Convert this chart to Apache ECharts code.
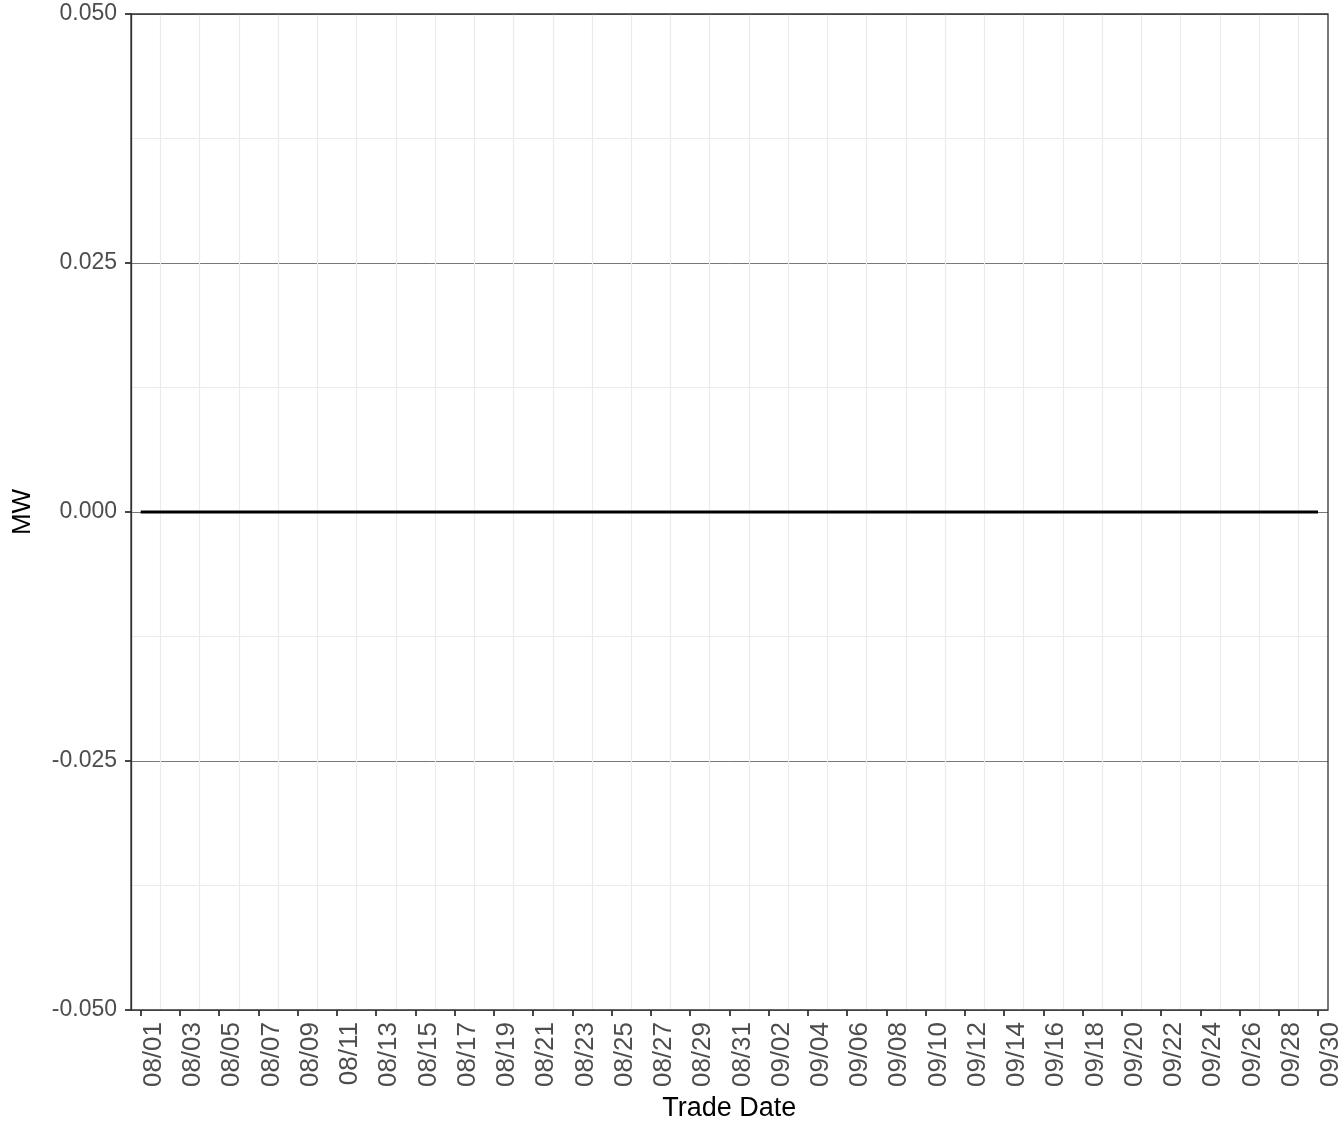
<!DOCTYPE html>
<html>
<head>
<meta charset="utf-8">
<script src="https://cdn.jsdelivr.net/npm/echarts@6/dist/echarts.min.js"></script>
<style>
  html, body { margin: 0; padding: 0; background: #fff; }
  #chart { width: 1344px; height: 1142px; }
</style>
</head>
<body>
<div id="chart"></div>
<script>
// 交易日 08/01 ~ 09/30，每天一个点，全部为 0 MW
const DATES = [
  '08/01', '08/02', '08/03', '08/04', '08/05', '08/06', '08/07', '08/08', '08/09', '08/10',
  '08/11', '08/12', '08/13', '08/14', '08/15', '08/16', '08/17', '08/18', '08/19', '08/20',
  '08/21', '08/22', '08/23', '08/24', '08/25', '08/26', '08/27', '08/28', '08/29', '08/30',
  '08/31', '09/01', '09/02', '09/03', '09/04', '09/05', '09/06', '09/07', '09/08', '09/09',
  '09/10', '09/11', '09/12', '09/13', '09/14', '09/15', '09/16', '09/17', '09/18', '09/19',
  '09/20', '09/21', '09/22', '09/23', '09/24', '09/25', '09/26', '09/27', '09/28', '09/29',
  '09/30',
];
const MW = [
  0, 0, 0, 0, 0, 0, 0, 0, 0, 0,
  0, 0, 0, 0, 0, 0, 0, 0, 0, 0,
  0, 0, 0, 0, 0, 0, 0, 0, 0, 0,
  0, 0, 0, 0, 0, 0, 0, 0, 0, 0,
  0, 0, 0, 0, 0, 0, 0, 0, 0, 0,
  0, 0, 0, 0, 0, 0, 0, 0, 0, 0,
  0,
];
const Y_MIN = -0.05;
const Y_MAX = 0.05;
const Y_STEP = 0.025;

const FONT = "'Liberation Sans', Arial, Helvetica, sans-serif";
const INK = '#333333';
const TICK_TXT = '#4d4d4d';
const MINOR = '#ebebeb';

const chart = echarts.init(document.getElementById('chart'), null, { renderer: 'canvas' });

// 两个重叠的 grid：外框 + y 轴在 grid0，日期轴和曲线在 grid1（左右各缩进约半天）
chart.setOption({
  animation: false,
  backgroundColor: '#fff',
  grid: [
    { left: 131, right: 16, top: 14, bottom: 132, show: true, borderColor: INK, borderWidth: 1.3, backgroundColor: 'transparent', z: 3 },
    { left: 140.7, right: 24.7, top: 14, bottom: 132 },
  ],
  xAxis: [
    { gridIndex: 0, type: 'value', min: 0, max: 1, show: false, axisLine: { onZero: false } },
    {
      gridIndex: 1, type: 'value', min: 0, max: DATES.length - 1, interval: 2,
      position: 'bottom',
      axisLine: { show: false, onZero: false },
      axisTick: { show: true, length: 6, lineStyle: { color: INK, width: 1.8 } },
      axisLabel: {
        rotate: 90, margin: 12, fontFamily: FONT, fontSize: 26, color: TICK_TXT,
        verticalAlign: 'top', showMinLabel: true, showMaxLabel: true,
        formatter: (v) => DATES[Math.round(v)] || '',
      },
      splitLine: { show: false },
      minorTick: { show: false, splitNumber: 2 },
      minorSplitLine: { show: true, lineStyle: { color: MINOR, width: 1.2 } },
      name: 'Trade Date', nameLocation: 'middle', nameGap: 82,
      nameTextStyle: { fontFamily: FONT, fontSize: 27, color: '#000' },
    },
  ],
  yAxis: [
    {
      gridIndex: 0, type: 'value', min: Y_MIN, max: Y_MAX, interval: Y_STEP,
      position: 'left',
      axisLine: { show: true, onZero: false, lineStyle: { color: INK, width: 1.3 } },
      axisTick: { show: true, length: 6, lineStyle: { color: INK, width: 1.8 } },
      axisLabel: { margin: 14, fontFamily: FONT, fontSize: 23, color: TICK_TXT, formatter: (v) => v.toFixed(3) },
      splitLine: { show: true, lineStyle: { color: '#555', width: 0.8 } },
      minorTick: { show: false, splitNumber: 2 },
      minorSplitLine: { show: true, lineStyle: { color: MINOR, width: 1.2 } },
      name: 'MW', nameLocation: 'middle', nameRotate: 90, nameGap: 95,
      nameTextStyle: { fontFamily: FONT, fontSize: 26, color: '#000' },
    },
    { gridIndex: 1, type: 'value', min: Y_MIN, max: Y_MAX, show: false },
  ],
  series: [{
    type: 'line',
    xAxisIndex: 1, yAxisIndex: 1,
    data: MW.map((v, i) => [i, v]),
    showSymbol: false,
    lineStyle: { color: '#000', width: 2.8 },
    z: 5,
  }],
});
</script>
</body>
</html>
